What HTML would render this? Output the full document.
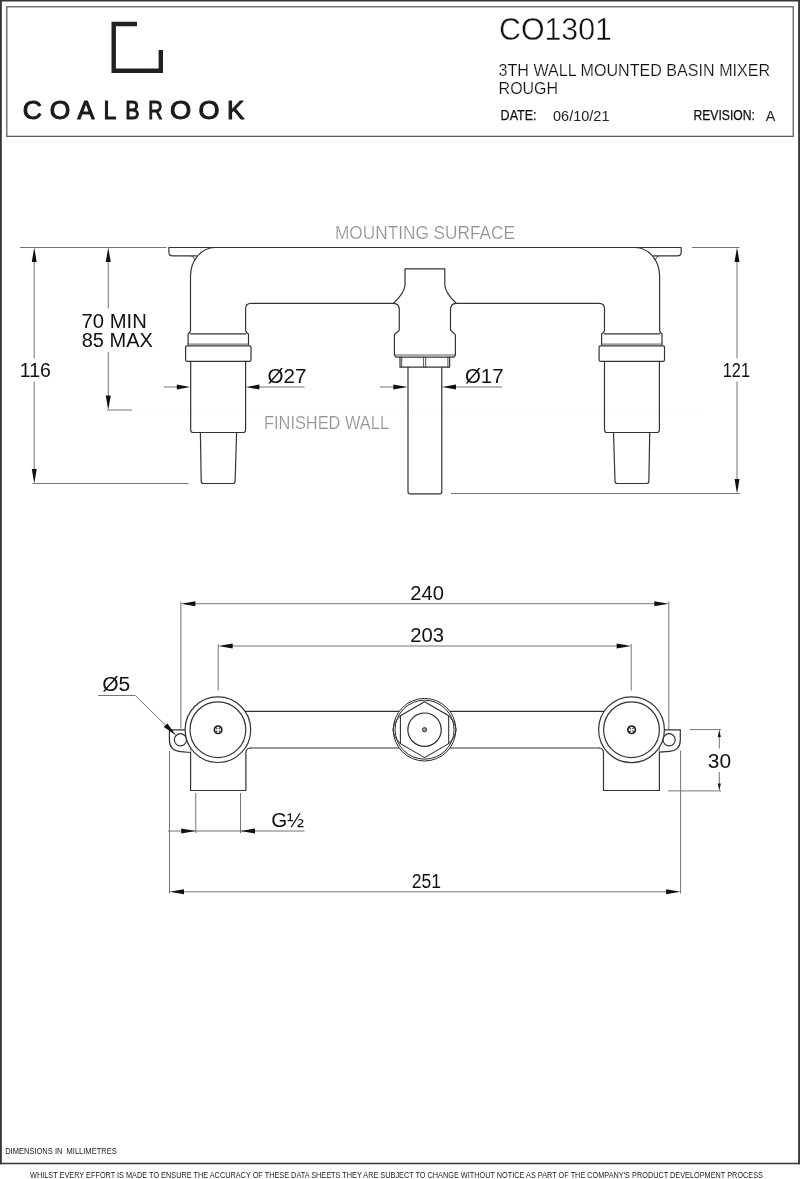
<!DOCTYPE html>
<html><head><meta charset="utf-8">
<style>
html,body{margin:0;padding:0;background:#fff;}
body{width:800px;height:1179px;overflow:hidden;font-family:"Liberation Sans",sans-serif;}
svg{display:block;will-change:transform;transform:translateZ(0);}
text{font-family:"Liberation Sans",sans-serif;}
.o{fill:none;stroke:#333;stroke-width:1.2;stroke-linejoin:round;stroke-linecap:round;}
.ow{fill:#fff;stroke:#333;stroke-width:1.2;stroke-linejoin:round;}
.d{fill:none;stroke:#747474;stroke-width:1;}
.a{fill:#111;stroke:none;}
.dt{font-size:20px;fill:#111;}
.gt{font-size:17.5px;fill:#929292;stroke:#fff;stroke-width:0.2px;}
</style></head><body>
<svg width="800" height="1179" viewBox="0 0 800 1179">
<rect width="800" height="1179" fill="#fff"/>
<!-- outer border -->
<path d="M0.9,1164.2 V0 M799.05,1164.2 V0" fill="none" stroke="#383435" stroke-width="1.85"/><path d="M0,0.7 H800" fill="none" stroke="#383435" stroke-width="1.4"/><path d="M0,1163.5 H800" fill="none" stroke="#383435" stroke-width="1.45"/>
<!-- header box -->
<rect x="6.8" y="6.8" width="786.4" height="129.5" fill="none" stroke="#444" stroke-width="1.1"/>
<!-- logo -->
<path d="M137,24 H113.7 V70.8 H160.8 V50" fill="none" stroke="#231f20" stroke-width="4.4"/>
<g id="brand" font-size="25" fill="#1a1a1a" stroke="#1a1a1a" stroke-width="1.05" stroke-linejoin="round">
<text id="b0" x="22.68" y="119.45" textLength="19.17" lengthAdjust="spacingAndGlyphs">C</text><text id="b1" x="49.68" y="119.45" textLength="20.54" lengthAdjust="spacingAndGlyphs">O</text><text id="b2" x="77.51" y="119.45" textLength="16.94" lengthAdjust="spacingAndGlyphs">A</text><text id="b3" x="103.47" y="119.45" textLength="12.93" lengthAdjust="spacingAndGlyphs">L</text><text id="b4" x="125.26" y="119.45" textLength="14.33" lengthAdjust="spacingAndGlyphs">B</text><text id="b5" x="148.22" y="119.45" textLength="14.47" lengthAdjust="spacingAndGlyphs">R</text><text id="b6" x="170.11" y="119.45" textLength="21.22" lengthAdjust="spacingAndGlyphs">O</text><text id="b7" x="198.48" y="119.45" textLength="21.01" lengthAdjust="spacingAndGlyphs">O</text><text id="b8" x="226.99" y="119.45" textLength="17.42" lengthAdjust="spacingAndGlyphs">K</text>
</g>
<!-- header text -->
<text id="t_code" x="499" y="40.4" font-size="30.7" fill="#111" stroke="#fff" stroke-width="0.4" textLength="113" lengthAdjust="spacingAndGlyphs">CO1301</text>
<text id="t_l1" x="498.6" y="76.4" font-size="16.7" fill="#111" stroke="#fff" stroke-width="0.2" textLength="271.5" lengthAdjust="spacingAndGlyphs">3TH WALL MOUNTED BASIN MIXER</text>
<text id="t_l2" x="498.6" y="93.6" font-size="16.7" fill="#111" stroke="#fff" stroke-width="0.2" textLength="59.5" lengthAdjust="spacingAndGlyphs">ROUGH</text>
<text id="t_date" x="500.6" y="119.7" font-size="14" fill="#111" stroke="#111" stroke-width="0.25" textLength="36" lengthAdjust="spacingAndGlyphs">DATE:</text>
<text id="t_dv" x="553" y="120.6" font-size="14.2" fill="#222" textLength="56.5" lengthAdjust="spacingAndGlyphs">06/10/21</text>
<text id="t_rev" x="693.4" y="119.6" font-size="14" fill="#111" stroke="#111" stroke-width="0.25" textLength="61.5" lengthAdjust="spacingAndGlyphs">REVISION:</text>
<text id="t_a" x="765.8" y="120.9" font-size="14" fill="#222" textLength="9.6" lengthAdjust="spacingAndGlyphs">A</text>

<!-- ================= TOP VIEW ================= -->
<text id="t_ms" x="335" y="238.6" class="gt" textLength="180" lengthAdjust="spacingAndGlyphs">MOUNTING SURFACE</text>
<text id="t_fw" x="264" y="429.4" class="gt" textLength="125" lengthAdjust="spacingAndGlyphs">FINISHED WALL</text>
<path d="M108,410 H700" stroke="#fafafa" stroke-width="1" fill="none"/>

<!-- left assembly (mirrored for right) -->
<g>
  <!-- flange -->
  <path class="o" d="M215,247.5 H168.9 V252 Q168.9,255.9 172.8,255.9 H196.5"/>
  <path class="o" d="M191.5,255.9 Q193.6,256.6 195,259.8" style="stroke-width:0.9"/>
  <!-- elbow outer -->
  <path class="o" d="M215,247.5 A24.5,28.5 0 0 0 190.5,276 V330.4 Q190.3,332.6 188.1,334 V344.4"/>
  <!-- inner corner -->
  <path class="o" d="M393.5,303.4 H251 Q245.6,303.4 245.6,309 V330.4 Q245.8,332.6 248.5,334 V344.4"/>
  <path class="o" d="M190.5,333.8 H245.6"/>
  <path class="o" d="M188.1,344.1 H248.5" style="stroke-width:0.8"/>
  <!-- band -->
  <rect class="o" x="185.6" y="345.8" width="65.4" height="15.5" rx="1.2"/>
  <!-- body -->
  <path class="o" d="M190.7,361.3 V430 Q190.7,432.5 193.2,432.5 H243.1 Q245.6,432.5 245.6,430 V361.3"/>
  <!-- stub -->
  <path class="o" d="M200.4,432.5 L201.2,481.2 Q201.3,483.5 203.6,483.5 H232.8 Q235,483.5 235.1,481.2 L236.6,432.5"/>
</g>
<g transform="translate(850.1,0) scale(-1,1)">
  <!-- flange -->
  <path class="o" d="M215,247.5 H168.9 V252 Q168.9,255.9 172.8,255.9 H196.5"/>
  <path class="o" d="M191.5,255.9 Q193.6,256.6 195,259.8" style="stroke-width:0.9"/>
  <!-- elbow outer -->
  <path class="o" d="M215,247.5 A24.5,28.5 0 0 0 190.5,276 V330.4 Q190.3,332.6 188.1,334 V344.4"/>
  <!-- inner corner -->
  <path class="o" d="M393.5,303.4 H251 Q245.6,303.4 245.6,309 V330.4 Q245.8,332.6 248.5,334 V344.4"/>
  <path class="o" d="M190.5,333.8 H245.6"/>
  <path class="o" d="M188.1,344.1 H248.5" style="stroke-width:0.8"/>
  <!-- band -->
  <rect class="o" x="185.6" y="345.8" width="65.4" height="15.5" rx="1.2"/>
  <!-- body -->
  <path class="o" d="M190.7,361.3 V430 Q190.7,432.5 193.2,432.5 H243.1 Q245.6,432.5 245.6,430 V361.3"/>
  <!-- stub -->
  <path class="o" d="M200.4,432.5 L201.2,481.2 Q201.3,483.5 203.6,483.5 H232.8 Q235,483.5 235.1,481.2 L236.6,432.5"/>
</g>
<path class="o" d="M214,247.5 H636"/>
<!-- center piece -->
<path class="o" d="M405,268.8 H444.8 V285 Q445.3,293 456.2,303.3 Q450.5,303.5 450.5,309.5 V329 Q450.5,330.8 452,331.8 L454.3,333.4 Q455.4,334.2 455.4,335.6 V355 L453.8,357.2 H396 L394.4,355 V335.6 Q394.4,334.2 395.5,333.4 L397.8,331.8 Q399.3,330.8 399.3,329 V309.5 Q399.3,303.5 393.5,303.3 Q404.5,293 405,285 Z"/>
<path class="o" d="M394.6,355 H455.2" style="stroke-width:0.8"/>
<path class="o" d="M400,357.2 V367.2 H449.6 V357.2"/>
<path class="o" style="stroke-width:0.85" d="M401.7,357.2 V367.2 M423.6,357.2 V367.2 M425.7,357.2 V367.2 M447.9,357.2 V367.2"/>
<path class="o" d="M408,367.2 V491.7 Q408,493.8 410,493.8 H439.8 Q441.8,493.8 441.8,491.7 V367.2"/>

<!-- dims top view -->
<path class="d" d="M20,247.5 H166.5"/>
<path class="d" d="M34.2,252 V358.5 M34.2,381.7 V479"/>
<path class="a" d="M34.25,247.5 L31.75,262 H36.75 Z"/>
<path class="a" d="M34.25,483.5 L31.75,469 H36.75 Z"/>
<path class="d" d="M32.5,483.5 H188.5"/>
<text id="t_116" x="19.78" y="377.20" class="dt" textLength="31.06" lengthAdjust="spacingAndGlyphs">116</text>

<path class="d" d="M108.25,252 V308.6 M108.25,352 V405"/>
<path class="a" d="M108.25,247.5 L105.75,262 H110.75 Z"/>
<path class="a" d="M108.25,410 L105.75,395.5 H110.75 Z"/>
<path class="d" d="M107,410 H132"/>
<text id="t_70" x="81.57" y="328.00" class="dt" textLength="65.18" lengthAdjust="spacingAndGlyphs">70 MIN</text>
<text id="t_85" x="81.76" y="347.40" class="dt" textLength="71.10" lengthAdjust="spacingAndGlyphs">85 MAX</text>

<!-- dia 27 -->
<path class="d" d="M163.75,387 H180 M256,387 H304.5"/>
<path class="a" d="M190.3,387 L176.8,384.5 V389.5 Z"/>
<path class="a" d="M245.8,387 L259.4,384.5 V389.5 Z"/>
<text id="t_27" x="267.57" y="383.32" class="dt" textLength="38.96" lengthAdjust="spacingAndGlyphs">Ø27</text>
<!-- dia 17 -->
<path class="d" d="M380,387 H398 M452,387 H502"/>
<path class="a" d="M407.8,387 L393.3,384.50 V389.50 Z"/>
<path class="a" d="M442,387 L456,384.5 V389.5 Z"/>
<text id="t_17" x="464.99" y="383.35" class="dt" textLength="38.60" lengthAdjust="spacingAndGlyphs">Ø17</text>

<!-- 121 -->
<path class="d" d="M691.75,247.5 H739.5"/>
<path class="d" d="M451,493.5 H740"/>
<path class="d" d="M737,252 V358.5 M737,381.5 V489"/>
<path class="a" d="M737,247.5 L734.50,262 H739.50 Z"/>
<path class="a" d="M737,493.5 L734.50,479 H739.50 Z"/>
<text id="t_121" x="722.68" y="377.20" class="dt" textLength="27.36" lengthAdjust="spacingAndGlyphs">121</text>

<!-- ================= BOTTOM VIEW ================= -->
<!-- pipe -->
<path class="o" d="M218,711.45 H631 M250,748 H599"/>
<!-- left body + ear -->
<path class="ow" d="M250.5,748 Q245.9,748.1 245.9,752.8 V790.5 H190.6 V729.5"/>
<path class="ow" d="M190.6,752.5 L180.5,751.6 Q169.4,750.6 169.4,740 V732.2 Q169.4,729.8 171.8,729.8 H190"/>
<circle class="ow" cx="180.4" cy="739.8" r="6.1"/>
<circle class="ow" cx="217.9" cy="729.7" r="32.8"/>
<circle class="o" cx="217.9" cy="729.7" r="27.9"/>
<circle cx="218.1" cy="729.75" r="3.75" fill="#fff" stroke="#1e1e1e" stroke-width="1.7"/><path d="M215.30,726.95 L220.90,732.55 M220.90,726.95 L215.30,732.55" stroke="#2a2a2a" stroke-width="1.1" fill="none"/><path d="M218.10,728.05 L219.60,729.75 L218.10,731.65 L216.60,729.75 Z" fill="#fff"/>
<!-- right body + ear -->
<path class="ow" d="M598.8,748 Q603.5,748.1 603.5,752.8 V790.5 H659.4 V729.5"/>
<path class="ow" d="M659.4,752.2 L669.5,751.4 Q680.3,750.4 680.3,740 V729.8 H660"/>
<circle class="ow" cx="669.1" cy="739.8" r="6.1"/>
<circle class="ow" cx="631.5" cy="729.7" r="32.9"/>
<circle class="o" cx="631.5" cy="729.7" r="27.9"/>
<circle cx="631.6" cy="729.75" r="3.75" fill="#fff" stroke="#1e1e1e" stroke-width="1.7"/><path d="M628.80,726.95 L634.40,732.55 M634.40,726.95 L628.80,732.55" stroke="#2a2a2a" stroke-width="1.1" fill="none"/><path d="M631.60,728.05 L633.10,729.75 L631.60,731.65 L630.10,729.75 Z" fill="#fff"/>
<!-- center -->
<circle cx="424.55" cy="729.7" r="31.3" fill="#fff" stroke="#2a2a2a" stroke-width="1"/>
<path fill="none" stroke="#2a2a2a" stroke-width="0.9" d="M400.3,715.7 Q385.4,729.7 400.3,743.7 M448.8,715.7 Q463.7,729.7 448.8,743.7"/>
<circle cx="424.55" cy="729.7" r="29.5" fill="none" stroke="#2a2a2a" stroke-width="1"/>
<path fill="none" stroke="#2a2a2a" stroke-width="1.05" stroke-linejoin="round" d="M424.55,701.8 L448.7,715.75 L448.7,743.65 L424.55,757.6 L400.4,743.65 L400.4,715.75 Z"/>
<circle cx="424.55" cy="729.7" r="16.7" fill="none" stroke="#2a2a2a" stroke-width="1.2"/>
<circle cx="424.55" cy="729.7" r="2.1" fill="#9a9a9a" stroke="#333" stroke-width="1"/>

<!-- dims bottom view -->
<!-- 240 -->
<path class="d" d="M180.9,601.5 V728.5 M668.8,601.5 V729"/>
<path class="d" d="M190,603.7 H660"/>
<path class="a" d="M180.9,603.7 L195.4,601.20 V606.20 Z"/>
<path class="a" d="M668.8,603.7 L654.3,601.20 V606.20 Z"/>
<text id="t_240" x="410.32" y="600.00" class="dt" textLength="33.49" lengthAdjust="spacingAndGlyphs">240</text>
<!-- 203 -->
<path class="d" d="M218.2,644 V690.5 M631.2,644 V690.5"/>
<path class="d" d="M228,646 H622"/>
<path class="a" d="M218.2,646 L232.7,643.50 V648.50 Z"/>
<path class="a" d="M631.2,646 L616.7,643.50 V648.50 Z"/>
<text id="t_203" x="410.30" y="642.00" class="dt" textLength="33.75" lengthAdjust="spacingAndGlyphs">203</text>
<!-- 251 -->
<path class="d" d="M169.5,751 V893.6 M680.6,750.5 V893.6"/>
<path class="d" d="M178,891.8 H672"/>
<path class="a" d="M169.5,891.8 L184,889.30 V894.30 Z"/>
<path class="a" d="M680.6,891.8 L666.1,889.30 V894.30 Z"/>
<text id="t_251" x="411.69" y="887.80" class="dt" textLength="29.28" lengthAdjust="spacingAndGlyphs">251</text>
<!-- G1/2 -->
<path class="d" d="M195.75,793 V833 M240.5,793 V833"/>
<path class="d" d="M168,831 H304.5"/>
<path class="a" d="M195.75,831 L181.25,828.50 V833.50 Z"/>
<path class="a" d="M240.5,831 L255,828.50 V833.50 Z"/>
<text id="t_g" x="271.21" y="827.12" class="dt" textLength="33.00" lengthAdjust="spacingAndGlyphs">G½</text>
<!-- 30 -->
<path class="d" d="M689.5,729.6 H721.2 M668,790.9 H721.2"/>
<path class="d" d="M719.3,735 V748.5 M719.3,772 V785"/>
<path class="a" d="M719.3,729.6 L717.8,737 H720.8 Z"/>
<path class="a" d="M719.3,790.9 L717.8,783.5 H720.8 Z"/>
<text id="t_30" x="707.86" y="768.09" class="dt" textLength="23.28" lengthAdjust="spacingAndGlyphs">30</text>
<!-- dia 5 leader -->
<path class="d" d="M98.2,695.5 H135.3 L166.5,726.2"/>
<path class="a" d="M176.2,735.6 L163.8,727.0 L167.4,723.5 Z"/>
<text id="t_5" x="102.27" y="691.35" class="dt" textLength="28.06" lengthAdjust="spacingAndGlyphs">Ø5</text>

<!-- footer -->
<text id="t_dim" x="5.2" y="1153.8" font-size="8.5" fill="#222" textLength="111.5" lengthAdjust="spacingAndGlyphs">DIMENSIONS IN&#160;&#160;MILLIMETRES</text>
<text id="t_foot" x="30" y="1177.7" font-size="8.3" fill="#222" textLength="733" lengthAdjust="spacingAndGlyphs">WHILST EVERY EFFORT IS MADE TO ENSURE THE ACCURACY OF THESE DATA SHEETS THEY ARE SUBJECT TO CHANGE WITHOUT NOTICE AS PART OF THE COMPANY'S PRODUCT DEVELOPMENT PROCESS</text>
</svg>
</body></html>
